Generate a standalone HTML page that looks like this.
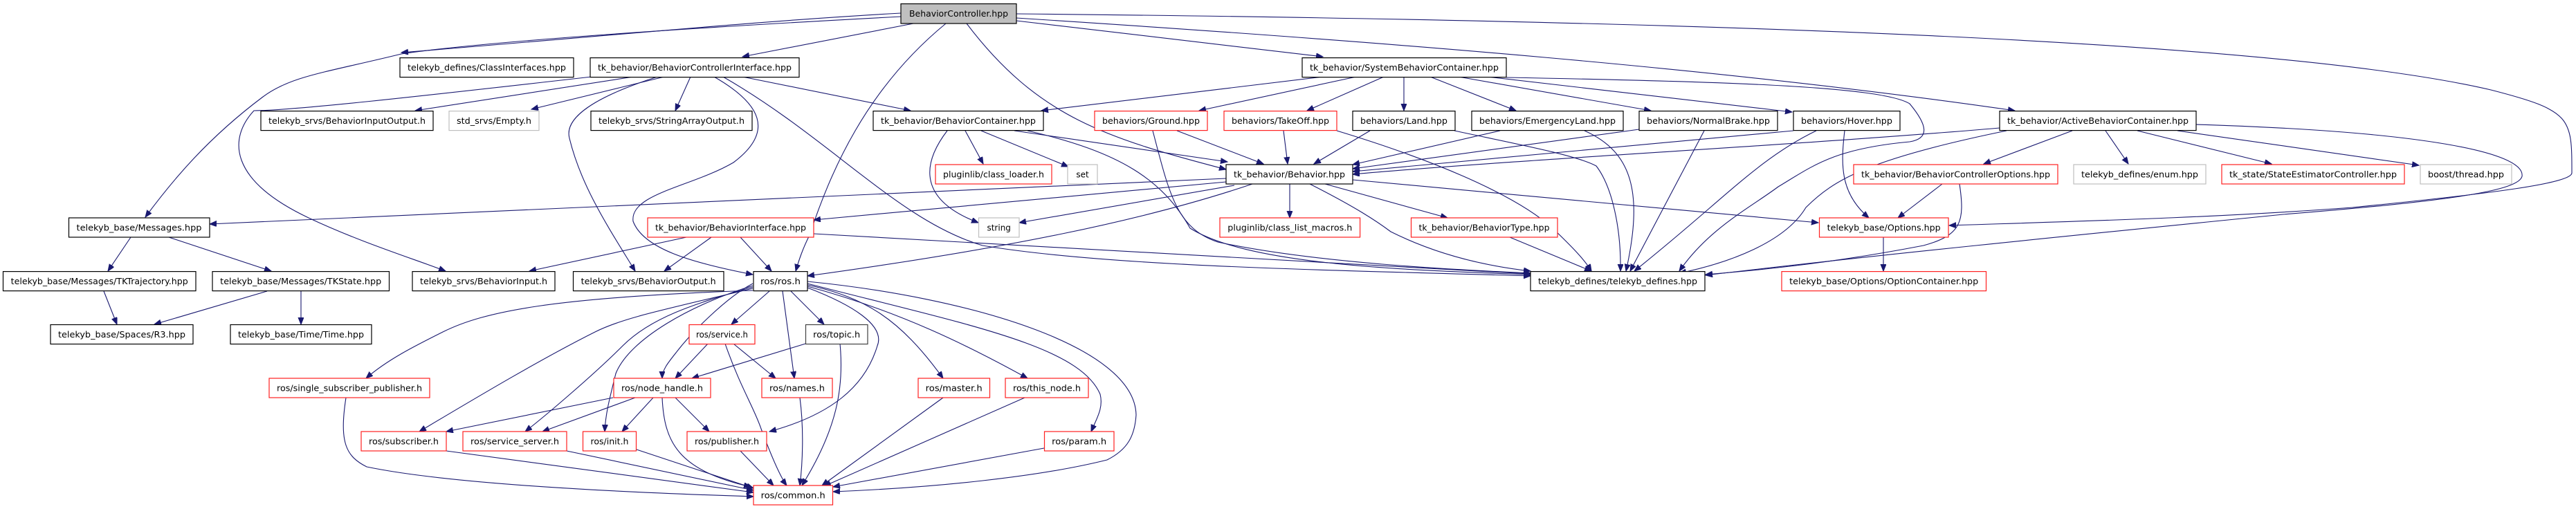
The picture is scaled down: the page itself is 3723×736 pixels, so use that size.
<!DOCTYPE html>
<html><head><meta charset="utf-8"><style>
html,body{margin:0;padding:0;background:#fff;}
svg{display:block;}
text{font-family:"DejaVu Sans","Liberation Sans",sans-serif;font-size:12px;fill:#000;}
.e{fill:none;stroke:#191970;stroke-width:1.1;marker-end:url(#a);}
.b{fill:#fff;stroke:#000;stroke-width:1.2;}
.r{fill:#fff;stroke:#ff2020;stroke-width:1.2;}
.g{fill:#fff;stroke:#bfbfbf;stroke-width:1.2;}
</style></head><body>
<svg width="3723" height="736" viewBox="0 0 3723 736" xmlns="http://www.w3.org/2000/svg">
<defs><marker id="a" markerUnits="userSpaceOnUse" markerWidth="11" markerHeight="9" refX="10" refY="4" orient="auto"><path d="M0,0 L10,4 L0,8 z" fill="#191970" stroke="#191970"/></marker></defs>

<!-- edges from BehaviorController -->
<path class="e" d="M1302,19 C1100,30 900,50 580,76"/>
<path class="e" d="M1302,24 C1000,40 700,60 580,78 C470,105 420,110 380,140 C300,200 250,260 210,314"/>
<path class="e" d="M1320,34 L1073,82"/>
<path class="e" d="M1367,34 C1250,130 1200,250 1170,340 C1160,360 1155,375 1150,392"/>
<path class="e" d="M1397,34 C1500,170 1600,200 1772,245"/>
<path class="e" d="M1469,30 L1912,82"/>
<path class="e" d="M1469,26 C2000,60 2500,100 2912,160"/>
<path class="e" d="M1469,20 C2500,30 3300,60 3600,130 C3717,160 3717,170 3717,250 C3717,265 3600,280 3400,300 C3200,315 3000,320 2817,326"/>

<!-- BehaviorControllerInterface -->
<path class="e" d="M915,111 L600,160"/>
<path class="e" d="M960,111 L768,158"/>
<path class="e" d="M998,111 L976,160"/>
<path class="e" d="M855,111 C600,140 420,160 367,160 C330,200 330,260 446,315 C520,350 600,375 644,392"/>
<path class="e" d="M950,111 C860,140 815,170 823,200 C840,270 880,330 918,392"/>
<path class="e" d="M1073,111 L1316,160"/>
<path class="e" d="M1032,111 C1100,150 1120,190 1060,235 C1000,270 910,280 915,320 C930,360 1000,380 1088,397"/>
<path class="e" d="M1045,111 C1200,200 1300,320 1420,355 C1600,385 1900,390 2212,399"/>

<!-- BehaviorContainer -->
<path class="e" d="M1395,189 L1421,237"/>
<path class="e" d="M1418,189 L1544,241"/>
<path class="e" d="M1369,189 C1330,240 1330,290 1414,322"/>
<path class="e" d="M1466,189 L1774,234"/>
<path class="e" d="M1485,189 C1620,220 1680,260 1720,330 C1800,380 2000,390 2212,397"/>

<!-- SystemBehaviorContainer -->
<path class="e" d="M1912,111 L1505,160"/>
<path class="e" d="M1960,111 L1733,160"/>
<path class="e" d="M2000,111 L1889,160"/>
<path class="e" d="M2029,111 L2029,160"/>
<path class="e" d="M2067,111 L2191,160"/>
<path class="e" d="M2108,111 L2386,160"/>
<path class="e" d="M2150,111 L2590,162"/>
<path class="e" d="M2177,112 C2500,118 2720,125 2760,150 C2785,180 2790,200 2760,205 C2650,215 2620,240 2570,270 C2530,300 2470,330 2427,392"/>

<!-- behaviors -> Behavior / defines -->
<path class="e" d="M1701,189 L1826,237"/>
<path class="e" d="M1666,189 C1690,280 1700,330 1760,350 C1900,380 2100,390 2212,395"/>
<path class="e" d="M1855,189 L1861,237"/>
<path class="e" d="M1932,189 C2100,240 2200,290 2244,330 C2270,355 2290,375 2300,392"/>
<path class="e" d="M1980,189 L1899,237"/>
<path class="e" d="M2102,189 C2200,210 2280,225 2307,240 C2330,270 2343,330 2342,392"/>
<path class="e" d="M2168,189 L1955,238"/>
<path class="e" d="M2290,189 C2360,220 2375,280 2350,392"/>
<path class="e" d="M2369,187 L1955,244"/>
<path class="e" d="M2463,189 L2356,392"/>
<path class="e" d="M2592,189 L1955,248"/>
<path class="e" d="M2625,189 C2540,230 2490,290 2362,392"/>
<path class="e" d="M2666,189 C2660,240 2660,280 2701,315"/>

<!-- ActiveBehaviorContainer -->
<path class="e" d="M2890,185 C2600,210 2200,230 1955,252"/>
<path class="e" d="M2900,189 C2700,230 2650,260 2610,300 C2580,350 2500,380 2427,395"/>
<path class="e" d="M2995,189 L2867,237"/>
<path class="e" d="M3043,189 L3076,237"/>
<path class="e" d="M3089,189 L3283,237"/>
<path class="e" d="M3147,189 L3496,239"/>
<path class="e" d="M3174,180 C3500,190 3650,220 3645,255 C3640,275 3550,290 3300,310 C3000,340 2700,370 2465,398"/>

<!-- BehaviorControllerOptions / Options / BehaviorType -->
<path class="e" d="M2807,266 L2743,315"/>
<path class="e" d="M2832,266 C2840,320 2835,340 2780,355 C2650,380 2550,390 2465,397"/>
<path class="e" d="M2722,343 L2722,392"/>
<path class="e" d="M2182,343 L2300,392"/>

<!-- Behavior.hpp -->
<path class="e" d="M1772,258 L303,324"/>
<path class="e" d="M1772,263 L1176,318"/>
<path class="e" d="M1784,268 L1473,322"/>
<path class="e" d="M1810,266 C1650,320 1450,360 1167,399"/>
<path class="e" d="M1864,266 L1864,315"/>
<path class="e" d="M1915,266 L2092,315"/>
<path class="e" d="M1955,260 L2628,322"/>
<path class="e" d="M1893,266 C1960,300 1990,320 2010,335 C2080,370 2150,385 2212,392"/>

<!-- BehaviorInterface -->
<path class="e" d="M992,343 L765,392"/>
<path class="e" d="M1028,343 L960,392"/>
<path class="e" d="M1070,343 L1115,392"/>
<path class="e" d="M1176,338 C1600,360 1900,380 2212,396"/>

<!-- Messages -->
<path class="e" d="M189,343 L156,392"/>
<path class="e" d="M244,343 L392,392"/>
<path class="e" d="M150,421 L169,469"/>
<path class="e" d="M386,421 L223,469"/>
<path class="e" d="M435,421 L435,469"/>

<!-- ros.h -->
<path class="e" d="M1112,421 L1057,469"/>
<path class="e" d="M1143,421 L1191,469"/>
<path class="e" d="M1131,421 L1148,547"/>
<path class="e" d="M1167,412 C1250,430 1300,460 1363,547"/>
<path class="e" d="M1167,414 C1300,450 1400,500 1485,547"/>
<path class="e" d="M1167,410 C1400,470 1560,500 1590,570 C1595,590 1585,605 1577,624"/>
<path class="e" d="M1167,407 C1400,430 1640,500 1642,600 C1640,630 1630,650 1600,665 C1500,690 1350,705 1204,711"/>
<path class="e" d="M1167,416 C1230,440 1280,470 1268,500 C1250,560 1200,600 1112,624"/>
<path class="e" d="M1088,410 C1050,430 1000,480 977,510 C965,525 957,535 957,547"/>
<path class="e" d="M1088,413 C1000,440 910,490 890,540 C880,580 875,600 874,624"/>
<path class="e" d="M1088,415 C1000,440 940,460 900,500 C860,540 790,600 759,624"/>
<path class="e" d="M1088,417 C950,450 900,460 860,480 C780,520 680,580 606,624"/>
<path class="e" d="M1088,420 C800,430 700,450 640,480 C600,500 560,520 529,547"/>

<!-- service / topic -->
<path class="e" d="M1023,497 L976,547"/>
<path class="e" d="M1060,497 L1121,547"/>
<path class="e" d="M1048,497 C1070,560 1090,590 1100,620 C1115,660 1128,690 1137,702"/>
<path class="e" d="M1164,497 L1000,547"/>
<path class="e" d="M1214,497 C1220,560 1210,620 1159,702"/>
<path class="e" d="M1156,575 C1162,620 1160,670 1156,702"/>
<path class="e" d="M1363,575 L1188,702"/>
<path class="e" d="M1481,575 L1191,703"/>
<path class="e" d="M1509,648 L1204,704"/>

<!-- node_handle -->
<path class="e" d="M886,575 L645,624"/>
<path class="e" d="M918,575 L784,624"/>
<path class="e" d="M944,575 L899,624"/>
<path class="e" d="M976,575 L1025,624"/>
<path class="e" d="M957,575 C960,640 980,680 1085,704"/>
<path class="e" d="M1070,652 L1118,702"/>
<path class="e" d="M500,575 C490,640 500,660 530,675 C650,700 900,712 1089,718"/>
<path class="e" d="M645,652 L1089,712"/>
<path class="e" d="M819,652 L1089,709"/>
<path class="e" d="M920,650 L1089,706"/>

<!-- nodes -->
<rect x="1302" y="5.5" width="167" height="28.5" fill="#bfbfbf" stroke="#000" stroke-width="1.2"/>
<text x="1385.5" y="24" text-anchor="middle" textLength="143" lengthAdjust="spacingAndGlyphs">BehaviorController.hpp</text>

<rect class="b" x="578" y="83.6" width="251" height="28"/><text x="703.5" y="102" text-anchor="middle" textLength="229" lengthAdjust="spacingAndGlyphs">telekyb_defines/ClassInterfaces.hpp</text>
<rect class="b" x="853" y="83.6" width="302" height="28"/><text x="1004" y="102" text-anchor="middle" textLength="280" lengthAdjust="spacingAndGlyphs">tk_behavior/BehaviorControllerInterface.hpp</text>
<rect class="b" x="1882" y="83.6" width="295" height="28"/><text x="2029.5" y="102" text-anchor="middle" textLength="273" lengthAdjust="spacingAndGlyphs">tk_behavior/SystemBehaviorContainer.hpp</text>

<rect class="b" x="377" y="160.6" width="249" height="28"/><text x="501.5" y="179" text-anchor="middle" textLength="227" lengthAdjust="spacingAndGlyphs">telekyb_srvs/BehaviorInputOutput.h</text>
<rect class="g" x="649" y="160.6" width="130" height="28"/><text x="714" y="179" text-anchor="middle" textLength="108" lengthAdjust="spacingAndGlyphs">std_srvs/Empty.h</text>
<rect class="b" x="854" y="160.6" width="233" height="28"/><text x="970.5" y="179" text-anchor="middle" textLength="211" lengthAdjust="spacingAndGlyphs">telekyb_srvs/StringArrayOutput.h</text>
<rect class="b" x="1262" y="160.6" width="246" height="28"/><text x="1385" y="179" text-anchor="middle" textLength="224" lengthAdjust="spacingAndGlyphs">tk_behavior/BehaviorContainer.hpp</text>
<rect class="r" x="1582" y="160.6" width="163" height="28"/><text x="1663.5" y="179" text-anchor="middle" textLength="141" lengthAdjust="spacingAndGlyphs">behaviors/Ground.hpp</text>
<rect class="r" x="1769" y="160.6" width="163" height="28"/><text x="1850.5" y="179" text-anchor="middle" textLength="141" lengthAdjust="spacingAndGlyphs">behaviors/TakeOff.hpp</text>
<rect class="b" x="1955" y="160.6" width="148" height="28"/><text x="2029" y="179" text-anchor="middle" textLength="126" lengthAdjust="spacingAndGlyphs">behaviors/Land.hpp</text>
<rect class="b" x="2127" y="160.6" width="219" height="28"/><text x="2236.5" y="179" text-anchor="middle" textLength="197" lengthAdjust="spacingAndGlyphs">behaviors/EmergencyLand.hpp</text>
<rect class="b" x="2369" y="160.6" width="200" height="28"/><text x="2469" y="179" text-anchor="middle" textLength="178" lengthAdjust="spacingAndGlyphs">behaviors/NormalBrake.hpp</text>
<rect class="b" x="2592" y="160.6" width="154" height="28"/><text x="2669" y="179" text-anchor="middle" textLength="132" lengthAdjust="spacingAndGlyphs">behaviors/Hover.hpp</text>
<rect class="b" x="2890" y="160.6" width="284" height="28"/><text x="3032" y="179" text-anchor="middle" textLength="262" lengthAdjust="spacingAndGlyphs">tk_behavior/ActiveBehaviorContainer.hpp</text>

<rect class="r" x="1352" y="238" width="168" height="28"/><text x="1436" y="256.5" text-anchor="middle" textLength="146" lengthAdjust="spacingAndGlyphs">pluginlib/class_loader.h</text>
<rect class="g" x="1543" y="238" width="43" height="28"/><text x="1564.5" y="256.5" text-anchor="middle">set</text>
<rect class="b" x="1772" y="238" width="183" height="28"/><text x="1863.5" y="256.5" text-anchor="middle" textLength="161" lengthAdjust="spacingAndGlyphs">tk_behavior/Behavior.hpp</text>
<rect class="r" x="2679" y="238" width="295" height="28"/><text x="2826.5" y="256.5" text-anchor="middle" textLength="273" lengthAdjust="spacingAndGlyphs">tk_behavior/BehaviorControllerOptions.hpp</text>
<rect class="g" x="2997" y="238" width="191" height="28"/><text x="3092.5" y="256.5" text-anchor="middle" textLength="169" lengthAdjust="spacingAndGlyphs">telekyb_defines/enum.hpp</text>
<rect class="r" x="3211" y="238" width="264" height="28"/><text x="3343" y="256.5" text-anchor="middle" textLength="242" lengthAdjust="spacingAndGlyphs">tk_state/StateEstimatorController.hpp</text>
<rect class="g" x="3498" y="238" width="132" height="28"/><text x="3564" y="256.5" text-anchor="middle" textLength="110" lengthAdjust="spacingAndGlyphs">boost/thread.hpp</text>

<rect class="b" x="99.5" y="315" width="203.5" height="28"/><text x="201" y="333.5" text-anchor="middle" textLength="181" lengthAdjust="spacingAndGlyphs">telekyb_base/Messages.hpp</text>
<rect class="r" x="936" y="315" width="240" height="28"/><text x="1056" y="333.5" text-anchor="middle" textLength="218" lengthAdjust="spacingAndGlyphs">tk_behavior/BehaviorInterface.hpp</text>
<rect class="g" x="1414.5" y="315" width="58.5" height="28"/><text x="1443.7" y="333.5" text-anchor="middle">string</text>
<rect class="r" x="1763" y="315" width="202.6" height="28"/><text x="1864.3" y="333.5" text-anchor="middle" textLength="180" lengthAdjust="spacingAndGlyphs">pluginlib/class_list_macros.h</text>
<rect class="r" x="2039.5" y="315" width="211.5" height="28"/><text x="2145" y="333.5" text-anchor="middle" textLength="189" lengthAdjust="spacingAndGlyphs">tk_behavior/BehaviorType.hpp</text>
<rect class="r" x="2629.5" y="315" width="186.5" height="28"/><text x="2722.7" y="333.5" text-anchor="middle" textLength="164" lengthAdjust="spacingAndGlyphs">telekyb_base/Options.hpp</text>

<rect class="b" x="4.5" y="392.6" width="278.5" height="28"/><text x="143.7" y="411" text-anchor="middle" textLength="256" lengthAdjust="spacingAndGlyphs">telekyb_base/Messages/TKTrajectory.hpp</text>
<rect class="b" x="307" y="392.6" width="255.5" height="28"/><text x="434.7" y="411" text-anchor="middle" textLength="233" lengthAdjust="spacingAndGlyphs">telekyb_base/Messages/TKState.hpp</text>
<rect class="b" x="596" y="392.6" width="206" height="28"/><text x="699" y="411" text-anchor="middle" textLength="184" lengthAdjust="spacingAndGlyphs">telekyb_srvs/BehaviorInput.h</text>
<rect class="b" x="828.5" y="392.6" width="217.5" height="28"/><text x="937.2" y="411" text-anchor="middle" textLength="195" lengthAdjust="spacingAndGlyphs">telekyb_srvs/BehaviorOutput.h</text>
<rect class="b" x="1089" y="392.6" width="78" height="28"/><text x="1128" y="411" text-anchor="middle" textLength="58" lengthAdjust="spacingAndGlyphs">ros/ros.h</text>
<rect class="b" x="2212" y="392.6" width="252" height="28"/><text x="2338" y="411" text-anchor="middle" textLength="230" lengthAdjust="spacingAndGlyphs">telekyb_defines/telekyb_defines.hpp</text>
<rect class="r" x="2575" y="392.6" width="295.5" height="28"/><text x="2722.7" y="411" text-anchor="middle" textLength="273" lengthAdjust="spacingAndGlyphs">telekyb_base/Options/OptionContainer.hpp</text>

<rect class="b" x="73" y="469.5" width="206" height="28"/><text x="176" y="488" text-anchor="middle" textLength="184" lengthAdjust="spacingAndGlyphs">telekyb_base/Spaces/R3.hpp</text>
<rect class="b" x="333" y="469.5" width="204" height="28"/><text x="435" y="488" text-anchor="middle" textLength="182" lengthAdjust="spacingAndGlyphs">telekyb_base/Time/Time.hpp</text>
<rect class="r" x="996" y="469.5" width="95" height="28"/><text x="1043.5" y="488" text-anchor="middle" textLength="75" lengthAdjust="spacingAndGlyphs">ros/service.h</text>
<rect x="1164.5" y="469.5" width="89.5" height="28" fill="#fff" stroke="#404040" stroke-width="1.2"/><text x="1209.2" y="488" text-anchor="middle" textLength="68" lengthAdjust="spacingAndGlyphs">ros/topic.h</text>

<rect class="r" x="389" y="547" width="232" height="28"/><text x="505" y="565.5" text-anchor="middle" textLength="210" lengthAdjust="spacingAndGlyphs">ros/single_subscriber_publisher.h</text>
<rect class="r" x="887" y="547" width="140" height="28"/><text x="957" y="565.5" text-anchor="middle" textLength="118" lengthAdjust="spacingAndGlyphs">ros/node_handle.h</text>
<rect class="r" x="1101" y="547" width="102" height="28"/><text x="1152" y="565.5" text-anchor="middle" textLength="80" lengthAdjust="spacingAndGlyphs">ros/names.h</text>
<rect class="r" x="1327" y="547" width="103.5" height="28"/><text x="1378.7" y="565.5" text-anchor="middle" textLength="82" lengthAdjust="spacingAndGlyphs">ros/master.h</text>
<rect class="r" x="1453" y="547" width="120" height="28"/><text x="1513" y="565.5" text-anchor="middle" textLength="98" lengthAdjust="spacingAndGlyphs">ros/this_node.h</text>

<rect class="r" x="522" y="624" width="123" height="28"/><text x="583.5" y="642.5" text-anchor="middle" textLength="101" lengthAdjust="spacingAndGlyphs">ros/subscriber.h</text>
<rect class="r" x="669" y="624" width="150" height="28"/><text x="744" y="642.5" text-anchor="middle" textLength="128" lengthAdjust="spacingAndGlyphs">ros/service_server.h</text>
<rect class="r" x="842.5" y="624" width="77" height="28"/><text x="881" y="642.5" text-anchor="middle" textLength="55" lengthAdjust="spacingAndGlyphs">ros/init.h</text>
<rect class="r" x="993" y="624" width="115" height="28"/><text x="1050.5" y="642.5" text-anchor="middle" textLength="93" lengthAdjust="spacingAndGlyphs">ros/publisher.h</text>
<rect class="r" x="1509.5" y="624" width="100.5" height="28"/><text x="1559.7" y="642.5" text-anchor="middle" textLength="79" lengthAdjust="spacingAndGlyphs">ros/param.h</text>

<rect class="r" x="1089" y="702" width="114.5" height="28"/><text x="1146.2" y="720.5" text-anchor="middle" textLength="93" lengthAdjust="spacingAndGlyphs">ros/common.h</text>
</svg>
</body></html>
